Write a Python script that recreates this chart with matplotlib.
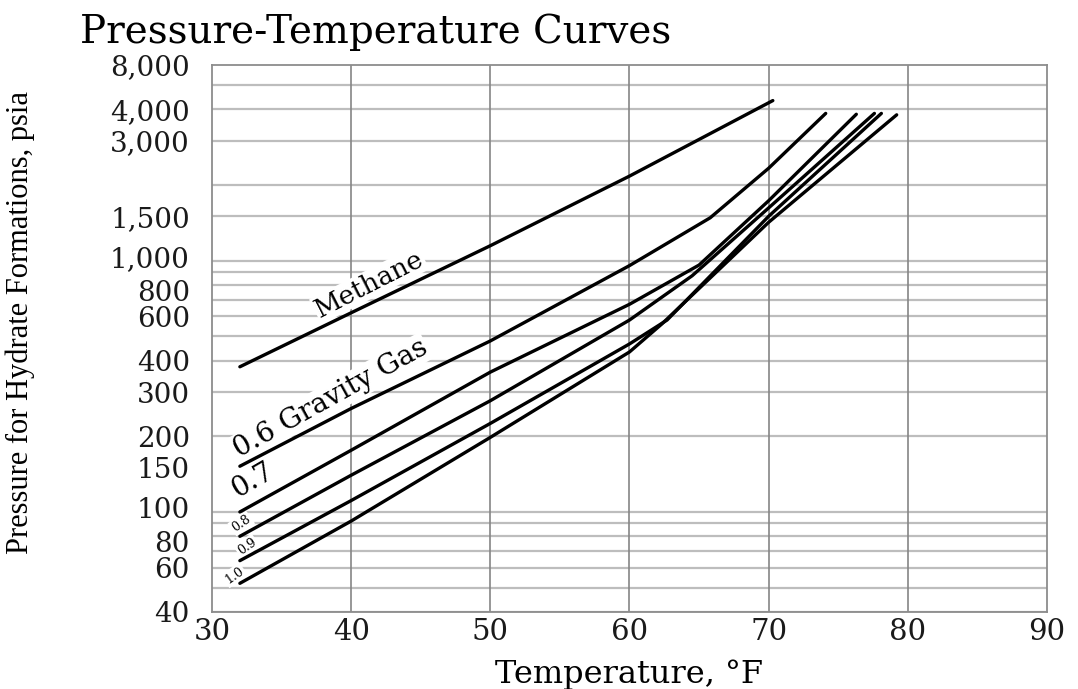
import numpy as np
import matplotlib
matplotlib.use("Agg")
import matplotlib.pyplot as plt
from matplotlib.transforms import ScaledTranslation

# curves: temperature (F) vs hydrate pressure (psia)
methane_t = [32, 40, 50, 60, 70.3]
methane_p = [378, 620, 1146, 2168, 4330]

g06_t = [32, 40, 50, 60, 65.8, 70, 74.1]
g06_p = [152, 258, 479, 955, 1480, 2330, 3850]

g07_t = [32, 40, 50, 60, 65, 70, 76.3]
g07_p = [100, 176, 360, 670, 960, 1730, 3820]

g08_t = [32, 40, 50, 60, 64.5, 70, 77.6]
g08_p = [80, 140, 277, 580, 870, 1620, 3850]

g09_t = [32, 40, 50, 60, 62.7, 70, 78.1]
g09_p = [64, 111, 225, 466, 580, 1500, 3850]

g10_t = [32, 40, 50, 60, 62.3, 70, 79.2]
g10_p = [52, 92, 198, 433, 558, 1420, 3800]

curves = [(methane_t, methane_p), (g06_t, g06_p), (g07_t, g07_p),
          (g08_t, g08_p), (g09_t, g09_p), (g10_t, g10_p)]

xticks = [30, 40, 50, 60, 70, 80, 90]
ytick_vals = [40, 60, 80, 100, 150, 200, 300, 400, 600, 800, 1000, 1500, 3000, 4000, 6000]
ytick_labels = ["40", "60", "80", "100", "150", "200", "300", "400", "600", "800",
                "1,000", "1,500", "3,000", "4,000", "8,000"]
hgrid = list(range(40, 100, 10)) + list(range(100, 1000, 100)) + [1000, 1500, 2000, 3000, 4000, 5000]
vgrid = [40, 50, 60, 70, 80]

fig = plt.figure(figsize=(10.78, 6.89), dpi=100)
ax = fig.add_axes([0.1967, 0.1118, 0.7745, 0.7939])
ax.set_yscale("log")
ax.set_xlim(30, 90)
ax.set_ylim(40, 6000)

for y in hgrid:
    ax.axhline(y, color="#bdbdbd", lw=1.6, zorder=1)
for x in vgrid:
    ax.axvline(x, color="#858585", lw=1.2, zorder=1)

for t, p in curves:
    ax.plot(t, p, color="black", lw=2.4, solid_capstyle="round", zorder=3)

ax.set_xticks(xticks)
ax.set_xticklabels([str(v) for v in xticks])
ax.set_yticks(ytick_vals)
ax.set_yticklabels(ytick_labels)
ax.yaxis.set_minor_locator(matplotlib.ticker.NullLocator())
ax.tick_params(length=0, labelsize=20, colors="#1a1a1a")
ax.tick_params(axis="x", labelsize=21, pad=4)
ax.tick_params(axis="y", pad=16)
for lab in ax.get_xticklabels() + ax.get_yticklabels():
    lab.set_family("DejaVu Serif")

# crowded pairs (1,000/800 and 100/80) nudged apart a little
nudge = {"1,000": 3, "800": -4, "100": 3, "80": -4}
for tick, txt in zip(ax.yaxis.get_major_ticks(), ytick_labels):
    if txt in nudge:
        lab = tick.label1
        lab.set_transform(lab.get_transform() +
                          ScaledTranslation(0, nudge[txt] / 72, fig.dpi_scale_trans))

for s in ax.spines.values():
    s.set_color("#8c8c8c")
    s.set_linewidth(1.3)

box = dict(facecolor="white", edgecolor="none", pad=1)
ax.text(41.3, 804, "Methane", rotation=27, ha="center", va="center",
        family="DejaVu Serif", fontsize=19, bbox=box, zorder=2)
ax.text(38.5, 283, "0.6 Gravity Gas", rotation=29, ha="center", va="center",
        family="DejaVu Serif", fontsize=20, bbox=box, zorder=2)
ax.text(32.9, 133, "0.7", rotation=30, ha="center", va="center",
        family="DejaVu Serif", fontsize=20, bbox=box, zorder=2)
for x, y, s in [(32.1, 90, "0.8"), (32.5, 73, "0.9"), (31.6, 56, "1.0")]:
    ax.text(x, y, s, rotation=35, ha="center", va="center",
            family="DejaVu Serif", fontsize=9, bbox=box, zorder=2)

ax.set_xlabel("Temperature, \u00b0F", family="DejaVu Serif", fontsize=23, labelpad=10)
ax.set_ylabel("Pressure for Hydrate Formations, psia", family="Liberation Serif",
              fontsize=22)
ax.yaxis.set_label_coords(-0.212, 0.53)
fig.text(0.074, 0.937, "Pressure-Temperature Curves", family="DejaVu Serif",
         fontsize=28, ha="left", va="baseline")

fig.savefig("out.png", dpi=100)
